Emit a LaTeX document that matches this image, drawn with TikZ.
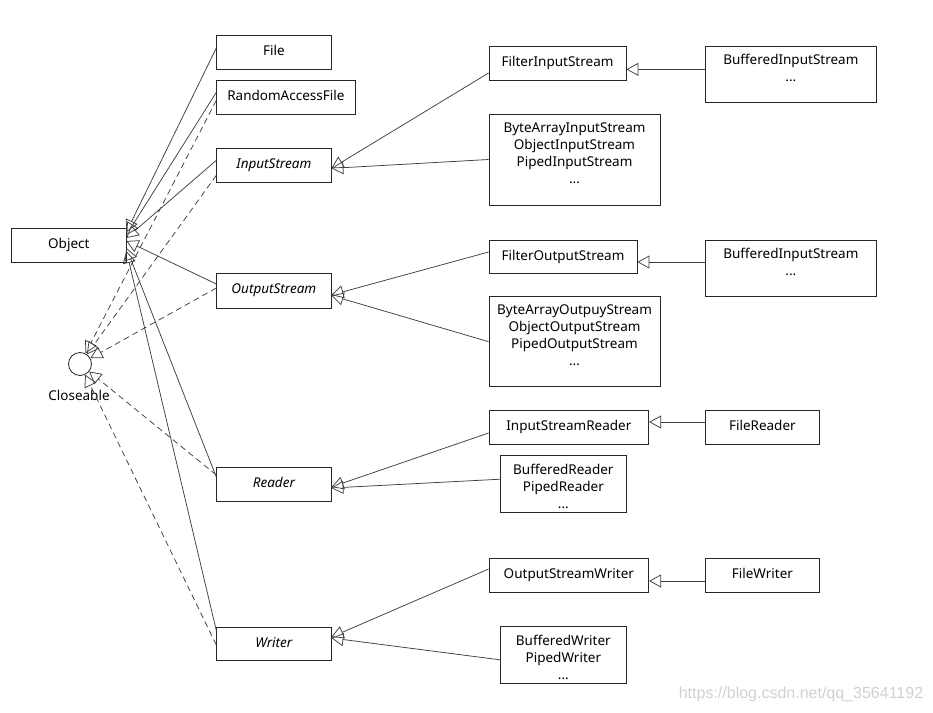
\documentclass[tikz,border=0pt]{standalone}
\usepackage{fontspec}
\setmainfont{Noto Sans}
\newfontfamily\wmfont{Liberation Sans}
\usetikzlibrary{arrows.meta}
\newcommand{\umlbox}[6]{%
  \node[box, minimum width={#4pt-#2pt}, minimum height={#5pt-#3pt}] (#1) at ({(#2+#4)/2},{(#3+#5)/2}) {};
  \node[txt] (#1-t) at ([yshift=-8.5pt]#1.north) {#6};
}
\begin{document}
\begin{tikzpicture}[x=1pt, y=-1pt,
  box/.style={draw=black!85, line width=0.8pt, rectangle, inner sep=0pt, fill=white},
  txt/.style={anchor=north, inner sep=0pt, align=center, font=\fontsize{13.5}{17}\selectfont, execute at begin node=\strut},
  gen/.style={draw=black!75, line width=0.75pt, -{Triangle[open, length=12pt, width=13pt, line width=0.75pt]}},
  real/.style={gen, dash pattern=on 6pt off 4pt}]
\useasboundingbox (0,0) rectangle (933,712);
\fill[white] (0,0) rectangle (933,712);
\umlbox{file}{216.7}{35}{331}{69}{File}
\umlbox{raf}{216.7}{80.7}{355}{114}{RandomAccessFile}
\umlbox{is}{216.7}{148}{331}{182.7}{\itshape InputStream}
\umlbox{obj}{11.7}{228}{126}{262}{Object}
\umlbox{os}{216.7}{273}{331}{308}{\itshape OutputStream}
\umlbox{rd}{216.7}{467}{331}{501}{\itshape Reader}
\umlbox{wr}{216.7}{627}{331}{660}{\itshape Writer}
\umlbox{fis}{489}{46}{626}{80}{FilterInputStream}
\umlbox{bisa}{705.7}{46}{876}{102.7}{BufferedInputStream\\...}
\umlbox{bais}{489}{114}{660}{205}{ByteArrayInputStream\\ObjectInputStream\\PipedInputStream\\...}
\umlbox{fos}{489}{240}{637}{273}{FilterOutputStream}
\umlbox{bisb}{705.7}{240}{876}{296}{BufferedInputStream\\...}
\umlbox{baos}{489}{296.7}{660}{386.7}{ByteArrayOutpuyStream\\ObjectOutputStream\\PipedOutputStream\\...}
\umlbox{isr}{489}{410}{648.7}{444}{InputStreamReader}
\umlbox{fr}{705.7}{410}{819}{444}{FileReader}
\umlbox{br}{500.7}{455.7}{626}{512.7}{BufferedReader\\PipedReader\\...}
\umlbox{osw}{489}{558}{648.7}{592}{OutputStreamWriter}
\umlbox{fw}{705.7}{558}{819}{592}{FileWriter}
\umlbox{bw}{500.7}{626.7}{626}{683}{BufferedWriter\\PipedWriter\\...}
\node[draw=black!85, line width=0.8pt, circle, minimum size=23pt, inner sep=0pt] (cls) at (80,364) {};
\node[font=\fontsize{13.5}{17}\selectfont, inner sep=0pt, anchor=base] (cls-t) at (79,400.5) {Closeable};
% generalisation to Object
\draw[gen] ([yshift=4pt]file.west) -- ([yshift=13pt]obj.east);
\draw[gen] ([yshift=5pt]raf.west) -- ([yshift=10pt]obj.east);
\draw[gen] ([yshift=5pt]is.west) -- ([yshift=7pt]obj.east);
\draw[gen] ([yshift=6.5pt]os.west) -- ([yshift=4pt]obj.east);
\draw[gen] ([yshift=7pt]rd.west) -- ([yshift=-3pt]obj.east);
\draw[gen] ([yshift=13pt]wr.west) -- ([yshift=-6pt]obj.east);
% realisation of Closeable
\draw[real] ([yshift=-3pt]raf.west) -- (cls);
\draw[real] ([yshift=-10pt]is.west) -- (cls);
\draw[real] ([yshift=2.5pt]os.west) -- (cls);
\draw[real] ([yshift=9pt]rd.west) -- (cls);
\draw[real] ([yshift=-1.5pt]wr.west) -- (cls);
% right side
\draw[gen] ([yshift=-10pt]fis.west) -- ([yshift=-3pt]is.east);
\draw[gen] (bais.west) -- ([yshift=-3pt]is.east);
\draw[gen] ([yshift=4.5pt]fos.west) -- ([yshift=-4.5pt]os.east);
\draw[gen] (baos.west) -- ([yshift=-5pt]os.east);
\draw[gen] ([yshift=-6pt]isr.west) -- ([yshift=-3pt]rd.east);
\draw[gen] ([yshift=5pt]br.west) -- ([yshift=-4pt]rd.east);
\draw[gen] ([yshift=6pt]osw.west) -- ([yshift=6.5pt]wr.east);
\draw[gen] ([yshift=-5pt]bw.west) -- ([yshift=5.5pt]wr.east);
\draw[gen] ([yshift=5pt]bisa.west) -- ([yshift=5pt]bisa.west -| fis.east);
\draw[gen] ([yshift=6pt]bisb.west) -- ([yshift=6pt]bisb.west -| fos.east);
\draw[gen] ([yshift=5pt]fr.west) -- ([yshift=5pt]fr.west -| isr.east);
\draw[gen] ([yshift=-6pt]fw.west) -- ([yshift=-6pt]fw.west -| osw.east);
\node[font=\wmfont\fontsize{16}{18}\selectfont, text=black!18, inner sep=0pt, anchor=base] (wm) at (801,698) {https://blog.csdn.net/qq\_35641192};
\end{tikzpicture}
\end{document}
